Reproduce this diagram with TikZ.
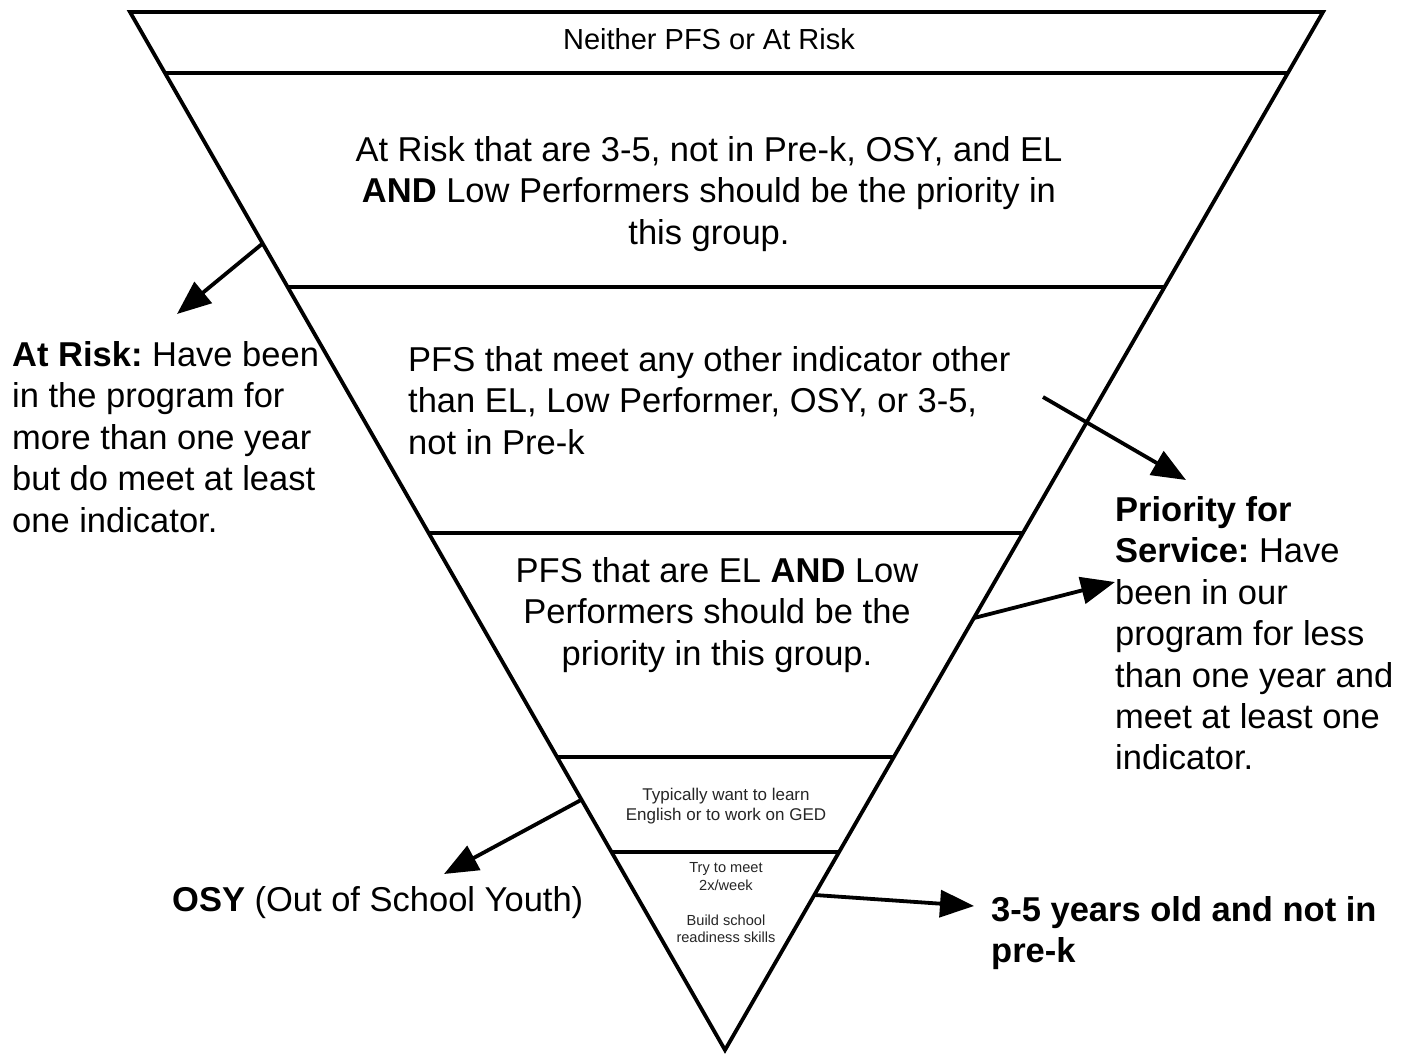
\documentclass[tikz,border=0pt]{standalone}
\usepackage{fontspec}
\setmainfont{Liberation Sans}
\usetikzlibrary{arrows.meta}
\frenchspacing
\begin{document}
\begin{tikzpicture}[x=1pt,y=-1pt,
  edge/.style={line width=3.8pt, line join=miter},
  band/.style={line width=3.8pt},
  arr/.style={line width=3.8pt, -{Triangle[length=34pt,width=27pt]}},
  big/.style={font=\fontsize{34.5}{41.4}\selectfont, inner sep=0pt, text=black},
  mid/.style={font=\fontsize{29}{34}\selectfont, inner sep=0pt, text=black},
  small/.style={font=\fontsize{17}{20}\selectfont, inner sep=0pt, text=black!85},
  tiny/.style={font=\fontsize{14.6}{17.5}\selectfont, inner sep=0pt, text=black!85}]
\fill[white] (0,0) rectangle (1408,1053);
\useasboundingbox (0,0) rectangle (1408,1053);
% outer triangle
\coordinate (TL) at (130,12);
\coordinate (TR) at (1323,12);
\coordinate (AP) at (725,1050);
\draw[edge] (AP) -- (TL) -- (TR) -- cycle;
% band lines
\draw[band] (165,73) -- (1288,73);
\draw[band] (288,287) -- (1164.5,287);
\draw[band] (428.6,533) -- (1022.8,533);
\draw[band] (557,757) -- (893.8,757);
\draw[band] (611.5,852) -- (839.1,852);
% texts
\node[mid, anchor=base] (top) at (709,49) {Neither PFS or At Risk};
\node[big, anchor=north, align=center] (ar) at (709,136.2)
  {At Risk that are 3-5, not in Pre-k, OSY, and EL\\\textbf{AND} Low Performers should be the priority in\\this group.};
\node[big, anchor=north west, align=left] (pfs) at (408,346.2)
  {PFS that meet any other indicator other\\than EL, Low Performer, OSY, or 3-5,\\not in Pre-k};
\node[big, anchor=north, align=center] (pel) at (717,557.2)
  {PFS that are EL \textbf{AND} Low\\Performers should be the\\priority in this group.};
\node[small, anchor=north, align=center] (osyt) at (726,787.6)
  {Typically want to learn\\English or to work on GED};
\node[tiny, anchor=north, align=center] (kidt) at (726,862.3)
  {Try to meet\\2x/week\\[17.5pt]Build school\\readiness skills};
\node[big, anchor=north west, align=left] (atrisk) at (12,341.2)
  {\textbf{At Risk:} Have been\\in the program for\\more than one year\\but do meet at least\\one indicator.};
\node[big, anchor=north west, align=left] (prio) at (1115,496.2)
  {\textbf{Priority for}\\\textbf{Service:} Have\\been in our\\program for less\\than one year and\\meet at least one\\indicator.};
\node[big, anchor=base west] (osy) at (172,911) {\textbf{OSY} (Out of School Youth)};
\node[big, anchor=north west, align=left, font=\fontsize{34.5}{41.4}\selectfont\bfseries] (kid) at (991,896.2)
  {3-5 years old and not in\\pre-k};
% arrows
\coordinate (a1s) at (262,244);
\coordinate (a1e) at (177,314);
\coordinate (a2s) at (1043,397);
\coordinate (a2e) at (1186,480);
\coordinate (a3s) at (974,618);
\coordinate (a3e) at (1115,582);
\coordinate (a4s) at (581,800);
\coordinate (a4e) at (444,874);
\coordinate (a5s) at (815,895);
\coordinate (a5e) at (974,906);
\draw[arr] (a1s) -- (a1e);
\draw[arr] (a2s) -- (a2e);
\draw[arr] (a3s) -- (a3e);
\draw[arr] (a4s) -- (a4e);
\draw[arr] (a5s) -- (a5e);
\end{tikzpicture}
\end{document}
